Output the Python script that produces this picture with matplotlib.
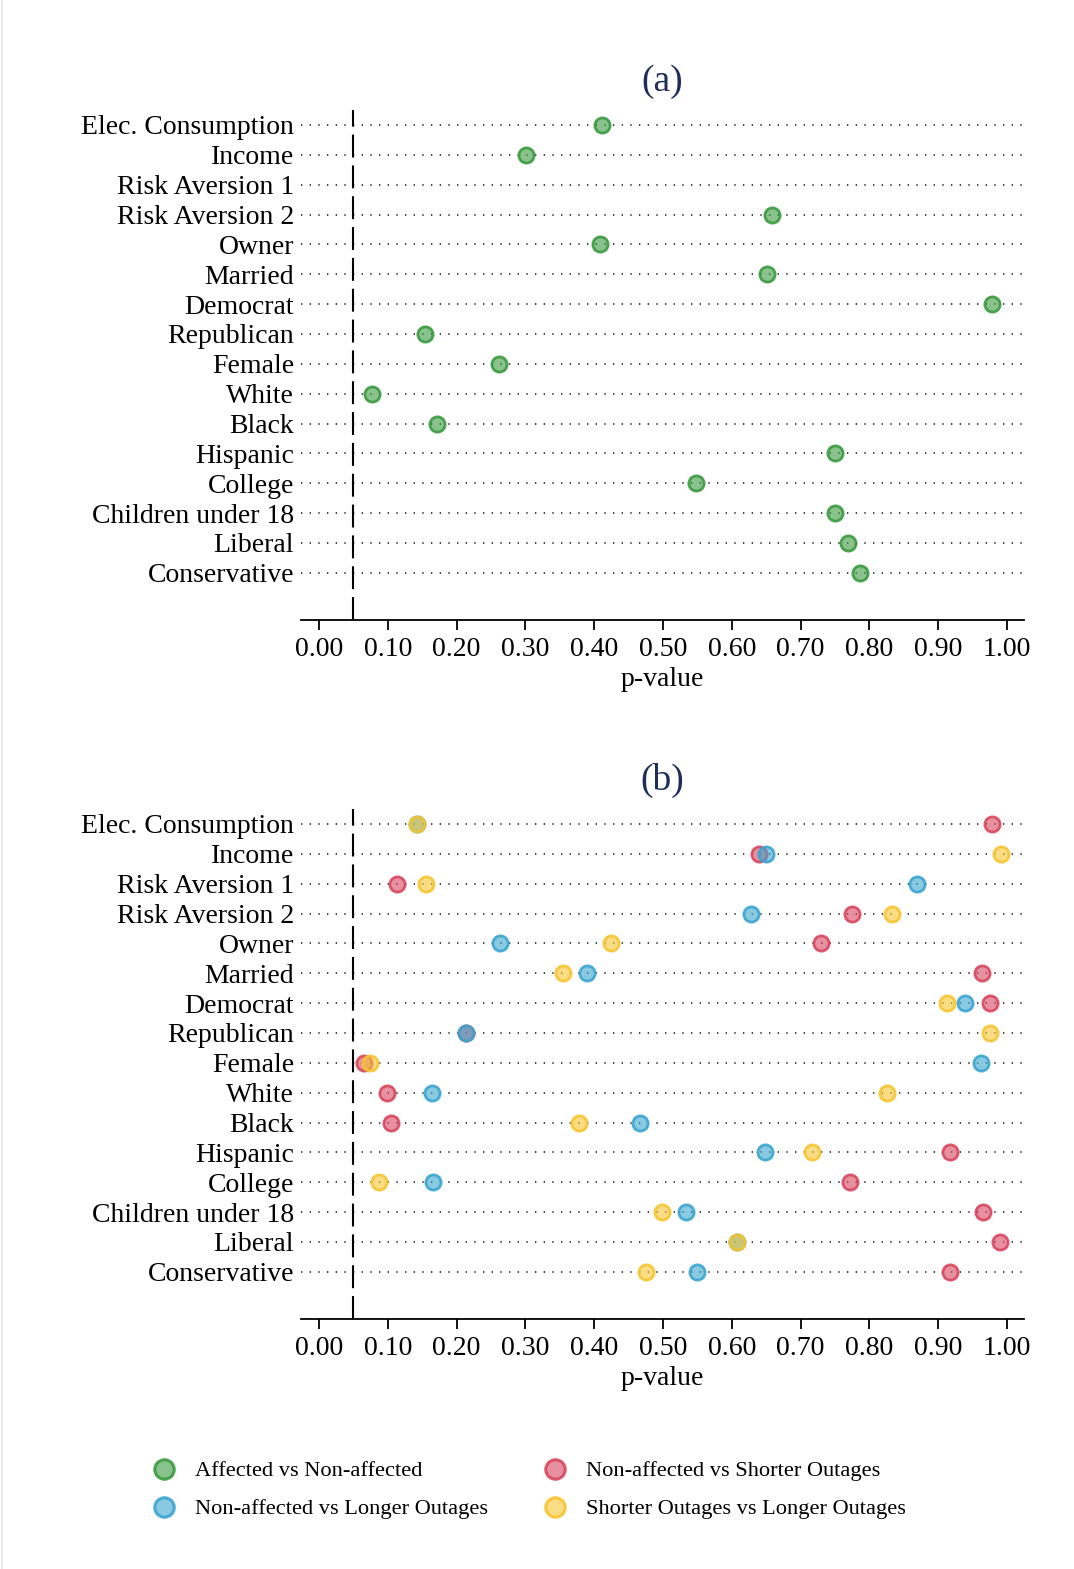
import matplotlib
matplotlib.use('Agg')
import matplotlib.pyplot as plt
from matplotlib.lines import Line2D
from matplotlib.colors import to_rgba
import numpy as np

plt.rcParams['font.family'] = ['Liberation Serif', 'DejaVu Serif']

labels = ["Elec. Consumption", "Income", "Risk Aversion 1", "Risk Aversion 2",
          "Owner", "Married", "Democrat", "Republican", "Female", "White",
          "Black", "Hispanic", "College", "Children under 18", "Liberal",
          "Conservative"]
ticks = [0.0, 0.1, 0.2, 0.3, 0.4, 0.5, 0.6, 0.7, 0.8, 0.9, 1.0]

# panel (a): affected vs non-affected
p_affected = [0.412, 0.301, np.nan, 0.658, 0.409, 0.651, 0.978, 0.154,
              0.262, 0.077, 0.172, 0.750, 0.548, 0.750, 0.769, 0.786]

# panel (b)
p_na_shorter = [0.978, 0.640, 0.113, 0.775, 0.730, 0.964, 0.975, 0.214,
                0.065, 0.099, 0.105, 0.917, 0.772, 0.965, 0.990, 0.917]
p_na_longer = [0.142, 0.650, 0.869, 0.628, 0.263, 0.390, 0.939, 0.214,
               0.962, 0.164, 0.467, 0.648, 0.166, 0.534, 0.608, 0.549]
p_short_long = [0.142, 0.991, 0.156, 0.833, 0.424, 0.355, 0.913, 0.975,
                0.074, 0.826, 0.378, 0.717, 0.087, 0.499, 0.608, 0.475]

names = ["Affected vs Non-affected", "Non-affected vs Shorter Outages",
         "Non-affected vs Longer Outages", "Shorter Outages vs Longer Outages"]
colors = {"green": "#3a9a40", "red": "#d8475f", "blue": "#3ba5cf", "yellow": "#f6c531"}


def draw_points(ax, vals, col):
    y = np.arange(len(labels))
    ax.scatter(vals, y, s=120, facecolor=to_rgba(col, 0.6),
               edgecolor=to_rgba(col, 0.9), linewidths=2.0, zorder=3)


def setup(ax, title):
    n = len(labels)
    for i in range(n):
        ax.axhline(i, color='#222222', lw=1.2, ls=(0, (0.8, 4.4)), zorder=1)
    ax.axvline(0.05, color='black', lw=1.5, ls=(0, (11, 3.8)), zorder=2)
    ax.set_xlim(-0.026, 1.0247)
    ax.set_ylim(16.58, -0.5)
    ax.set_yticks(np.arange(n))
    ax.set_yticklabels(labels, fontsize=20)
    ax.tick_params(axis='y', length=0, pad=5)
    ax.set_xticks(ticks)
    ax.set_xticklabels(["%.2f" % t for t in ticks], fontsize=20)
    ax.tick_params(axis='x', length=7, width=1.3, pad=5)
    for s in ['left', 'right', 'top']:
        ax.spines[s].set_visible(False)
    ax.spines['bottom'].set_linewidth(1.3)
    ax.set_xlabel("p-value", fontsize=20, labelpad=4)
    ax.set_title(title, fontsize=27, color='#1f2d5a', pad=13.5)


fig = plt.figure(figsize=(10.74, 15.69), dpi=100)
ax1 = fig.add_axes([0.28026, 0.60484, 0.67318, 0.32505])
ax2 = fig.add_axes([0.28026, 0.15934, 0.67318, 0.32505])

setup(ax1, "(a)")
draw_points(ax1, p_affected, colors["green"])

setup(ax2, "(b)")
draw_points(ax2, p_na_shorter, colors["red"])
draw_points(ax2, p_na_longer, colors["blue"])
draw_points(ax2, p_short_long, colors["yellow"])

handles = []
for c in ["green", "blue", "red", "yellow"]:
    handles.append(Line2D([], [], ls='none', marker='o', markersize=14,
                          markerfacecolor=to_rgba(colors[c], 0.6),
                          markeredgecolor=to_rgba(colors[c], 0.9),
                          markeredgewidth=2.2))
leg_labels = [names[0], names[2], names[1], names[3]]
fig.legend(handles, leg_labels, ncol=2, loc='upper left',
           bbox_to_anchor=(0.1425, 0.069), frameon=False, fontsize=16.1,
           handlelength=1.0, handletextpad=0.87, columnspacing=2.5,
           labelspacing=0.78, borderpad=0, borderaxespad=0)

# faint page edge on the left
fig.add_artist(Line2D([0.0015, 0.0015], [0, 1], transform=fig.transFigure,
                      color='#e4e4e4', lw=1.2))

fig.savefig("out.png", dpi=100)
